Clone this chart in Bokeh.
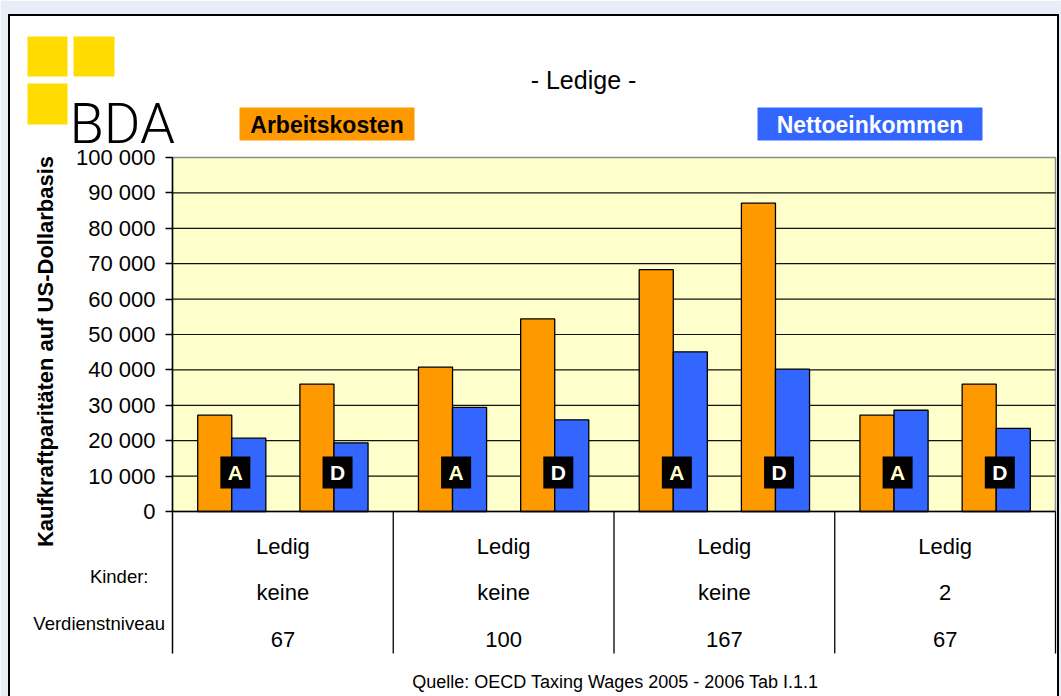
import math
from bokeh.plotting import figure
from bokeh.models import FixedTicker, Range1d, ColumnDataSource
from bokeh.core.properties import value
from bokeh.embed import file_html
from bokeh.resources import INLINE

# ---------------- data ----------------
familienstand = ["Ledig", "Ledig", "Ledig", "Ledig"]
kinder = ["keine", "keine", "keine", "2"]
verdienstniveau = ["67", "100", "167", "67"]
laender = ["A", "D"]
arbeitskosten = [27200, 36000, 40800, 54400, 68300, 87100, 27200, 36000]
nettoeinkommen = [20700, 19400, 29400, 25900, 45100, 40200, 28600, 23500]
y_ticks = [0, 10000, 20000, 30000, 40000, 50000, 60000, 70000, 80000, 90000, 100000]
y_tick_labels = ["0", "10 000", "20 000", "30 000", "40 000", "50 000",
                 "60 000", "70 000", "80 000", "90 000", "100 000"]
series_names = ["Arbeitskosten", "Nettoeinkommen"]
title_text = "- Ledige -"
y_label = "Kaufkraftparitäten auf US-Dollarbasis"
row_labels = ["Kinder:", "Verdienstniveau"]
source_text = "Quelle: OECD Taxing Wages 2005 - 2006 Tab I.1.1"
logo_text = "BDA"

# ---------------- styling / layout ----------------
ORANGE = "#FF9900"
BLUE = "#3366FF"
PLOT_BG = "#FFFFCC"
LOGO_YELLOW = "#FFDC00"
PAGE_GRAY = "#E9EDF5"
GRID_GRAY = "#8C8C8C"
FONT = "Liberation Sans"

W, H = 1061, 696
GP = 0.16                       # gap between groups (category units)
BAR_W = 1 / 3
N_GROUPS = len(familienstand)
GROUP_W = len(laender) + GP
X_END_DATA = N_GROUPS * GROUP_W

# pixel anchors of the plot area
PX_LEFT, PX_RIGHT = 172, 1055
PY_ZERO, PY_TOP = 511, 157
PY_TABLE_BOTTOM = 653
ppx = (PX_RIGHT - PX_LEFT) / X_END_DATA
upy = 100000 / (PY_ZERO - PY_TOP)


def X(px):
    return (px - PX_LEFT) / ppx


def Y(py):
    return (PY_ZERO - py) * upy


p = figure(width=W, height=H, x_range=Range1d(X(0), X(W)), y_range=Range1d(Y(H), Y(0)),
           output_backend="svg", toolbar_location=None, x_axis_location=None,
           title=None, min_border=0)
p.background_fill_color = "white"
p.border_fill_color = "white"
p.outline_line_color = None
p.grid.visible = False

# ---------------- page frame ----------------
def quad(x0, y0, x1, y1, color, **kw):
    p.quad(left=X(x0), right=X(x1), top=Y(y0), bottom=Y(y1),
           fill_color=color, line_color=None, **kw)


quad(0, 0, W, 13.5, PAGE_GRAY)
quad(0, 0, 7.5, H, PAGE_GRAY)
quad(1058.5, 0, W, H, PAGE_GRAY)
quad(7.5, 13.5, 1058.5, 15.5, "black")
quad(7.5, 13.5, 9.5, H, "black")
quad(1056.5, 13.5, 1058.5, H, "black")

# ---------------- chart ----------------
# categories positioned through a simple grouped layout
cat_x = [g * GROUP_W + GP / 2 + i + 0.5 for g in range(N_GROUPS) for i in range(len(laender))]
group_x = [g * GROUP_W + GROUP_W / 2 for g in range(N_GROUPS)]
group_edge = [(g + 1) * GROUP_W for g in range(N_GROUPS)]

# plot area background + border
p.quad(left=0, right=X_END_DATA, bottom=0, top=y_ticks[-1], fill_color=PLOT_BG,
       line_color=GRID_GRAY, line_width=1.5)
# gridlines
p.segment(x0=0, x1=X_END_DATA, y0=y_ticks[1:-1], y1=y_ticks[1:-1],
          line_color="#111111", line_width=1.2)

src = ColumnDataSource(dict(
    x_ak=[x - BAR_W / 2 for x in cat_x], x_ne=[x + BAR_W / 2 for x in cat_x],
    x_badge=[x + 0.035 for x in cat_x],
    ak=arbeitskosten, ne=nettoeinkommen,
    land=[c for _ in range(N_GROUPS) for c in laender],
    lcol=["#FFFFCC" if c == "A" else "white" for _ in range(N_GROUPS) for c in laender],
))
p.vbar(x="x_ak", top="ak", bottom=0, width=BAR_W, source=src,
       fill_color=ORANGE, line_color="black", line_width=1.3)
p.vbar(x="x_ne", top="ne", bottom=0, width=BAR_W, source=src,
       fill_color=BLUE, line_color="black", line_width=1.3)

# zero line
p.segment(x0=0, x1=X_END_DATA, y0=0, y1=0, line_color="black", line_width=1.5)

# country badges
BADGE_Y = Y(472)
p.rect(x="x_badge", y=BADGE_Y, width=30, height=32, width_units="screen",
       height_units="screen", source=src, fill_color="black", line_color=None)
p.text(x="x_badge", y=BADGE_Y, text="land", source=src, text_color="lcol",
       text_align="center", text_baseline="middle", text_font=value(FONT),
       text_font_style="bold", text_font_size="21px")

# table below the chart
tsrc = ColumnDataSource(dict(x=group_x, edge=group_edge, fs=familienstand,
                             k=kinder, v=verdienstniveau))
p.segment(x0="edge", x1="edge", y0=0, y1=Y(PY_TABLE_BOTTOM), source=tsrc,
          line_color="black", line_width=1.3)
for col, py in (("fs", 545.5), ("k", 591.5), ("v", 638.5)):
    p.text(x="x", y=Y(py), text=col, source=tsrc, text_align="center",
           text_baseline="middle", text_font=value(FONT), text_font_size="22px",
           text_color="black")

# y axis (library axis, placed at the left edge of the plot area)
ax = p.yaxis[0]
ax.fixed_location = 0
ax.bounds = (Y(PY_TABLE_BOTTOM), y_ticks[-1])
ax.ticker = FixedTicker(ticks=y_ticks)
ax.major_label_overrides = dict(zip(y_ticks, y_tick_labels))
ax.minor_tick_line_color = None
ax.major_tick_in = 0
ax.major_tick_out = 7
ax.major_tick_line_color = "black"
ax.major_tick_line_width = 1.5
ax.axis_line_color = "black"
ax.axis_line_width = 1.5
ax.major_label_text_font = FONT
ax.major_label_text_font_size = "22px"
ax.major_label_text_color = "black"
ax.major_label_standoff = 10


# ---------------- texts and decorations ----------------
def label(px, py, text, size, align="center", baseline="middle", bold=False,
          color="black", angle=0.0, font=FONT):
    p.text(x=[X(px)], y=[Y(py)], text=[text], text_font=value(font),
           text_font_size=size, text_font_style="bold" if bold else "normal",
           text_color=color, text_align=align, text_baseline=baseline, angle=angle)


# logo
quad(27, 36, 67, 76, LOGO_YELLOW)
quad(73, 36, 114, 76, LOGO_YELLOW)
quad(27, 83, 67, 124, LOGO_YELLOW)
label(69, 123, logo_text, "56px", align="left", baseline="alphabetic",
      font="Roboto Light")

# title
label(583, 79, title_text, "25px")

# legend boxes
quad(239, 107, 414, 140, ORANGE)
label(326.5, 124, series_names[0], "23px", bold=True)
quad(757, 107, 982, 140, BLUE)
label(869.5, 124, series_names[1], "23px", bold=True, color="white")

# y axis title
label(45, 351, y_label, "22px", bold=True, angle=math.pi / 2)

# table row labels
label(148, 575.5, row_labels[0], "18.5px", align="right")
label(164.5, 622.5, row_labels[1], "18.5px", align="right")

# source
label(615, 681, source_text, "18px")

open("out.html", "w").write(file_html(p, INLINE))
